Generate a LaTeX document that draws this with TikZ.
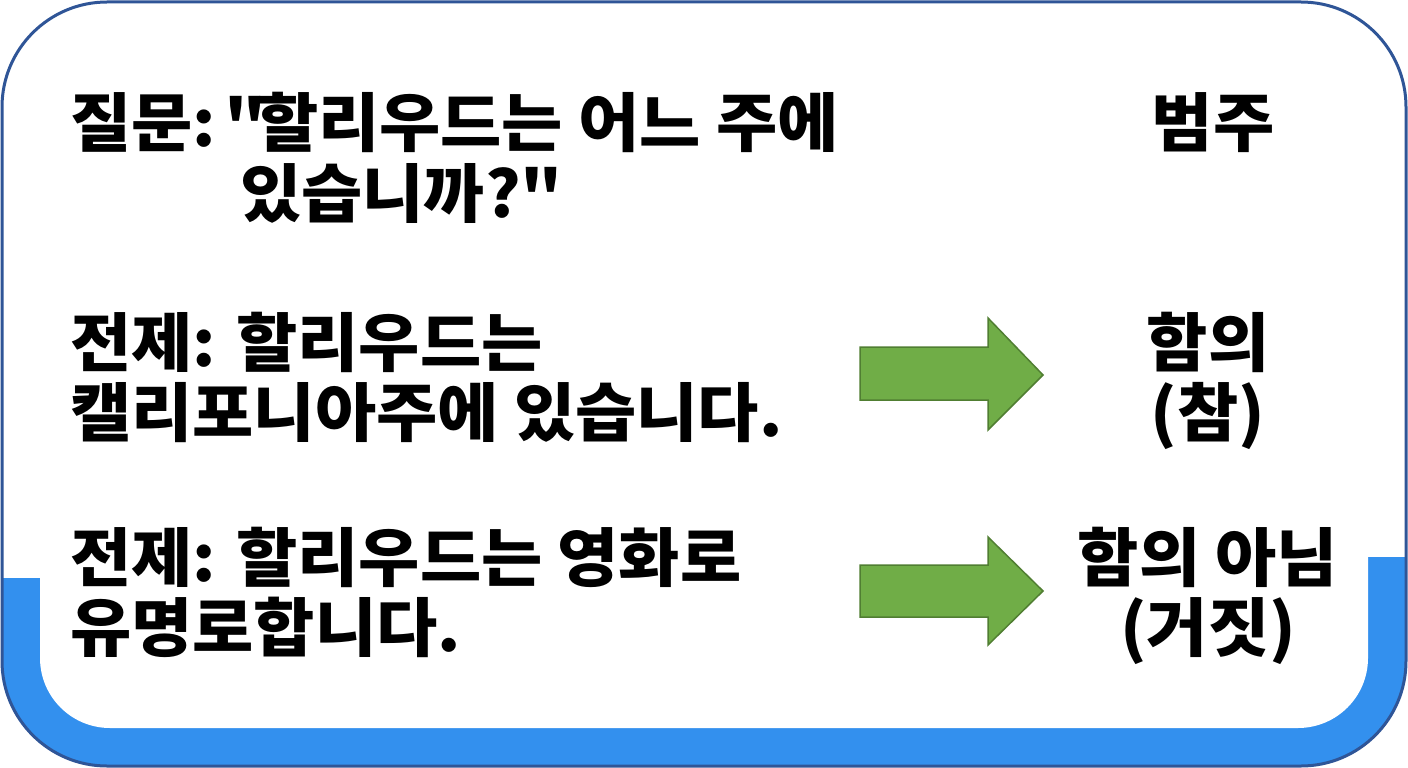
\documentclass[tikz,border=0pt]{standalone}
\usepackage{fontspec}
\newfontfamily\kr[FakeStretch=1.04]{Noto Sans CJK KR}
\definecolor{frame}{HTML}{2F5597}
\definecolor{band}{HTML}{3390EE}
\definecolor{arrowfill}{HTML}{70AD47}
\definecolor{arrowline}{HTML}{507E32}
\tikzset{
  txt/.style={inner sep=0pt, font=\kr\bfseries\fontsize{64}{70}\selectfont, text=black},
  greenarrow/.style={fill=arrowfill, draw=arrowline, line width=1.5pt, line join=miter}
}
\begin{document}
\begin{tikzpicture}[x=1pt,y=-1pt]
\useasboundingbox (0,0) rectangle (1408,768);
% frame
\fill[white, rounded corners=105] (2,2) rectangle (1406,766);
\begin{scope}
  \clip[rounded corners=105] (2,2) rectangle (1406,766);
  \fill[band] (0,578) -- (704,578) -- (704,557) -- (1408,557) -- (1408,768) -- (0,768) -- cycle;
\end{scope}
\fill[white, rounded corners=70] (40,450) rectangle (1368,728);
\draw[frame, line width=3pt, rounded corners=105] (2,2) rectangle (1406,766);
% left texts
\node[txt, anchor=base west] (q1) at (70,146) {질문:\kern8pt"\kern-9pt 할리우드는 어느 주에};
\node[txt, anchor=base west] (q2) at (240,217) {있습니까?"};
\node[txt, anchor=base west] (p1a) at (70,366) {전제: 할리우드는};
\node[txt, anchor=base west] (p1b) at (70,436) {캘리포니아주에 있습니다.};
\node[txt, anchor=base west] (p2a) at (70,581) {전제: 할리우드는 영화로};
\node[txt, anchor=base west] (p2b) at (70,651) {유명로합니다.};
% right texts
\node[txt, anchor=base] (cat) at (1213,146) {범주};
\node[txt, anchor=base] (e1a) at (1208,366) {함의};
\node[txt, anchor=base] (e1b) at (1208,436) {(참)};
\node[txt, anchor=base] (e2a) at (1208,581) {함의 아님};
\node[txt, anchor=base] (e2b) at (1208,651) {(거짓)};
% arrows
\draw[greenarrow] (860,347) -- (988,347) -- (988,318) -- (1043,375) -- (988,430) -- (988,400) -- (860,400) -- cycle;
\draw[greenarrow] (860,565) -- (988,565) -- (988,537) -- (1043,591) -- (988,645) -- (988,617) -- (860,617) -- cycle;
\end{tikzpicture}
\end{document}
